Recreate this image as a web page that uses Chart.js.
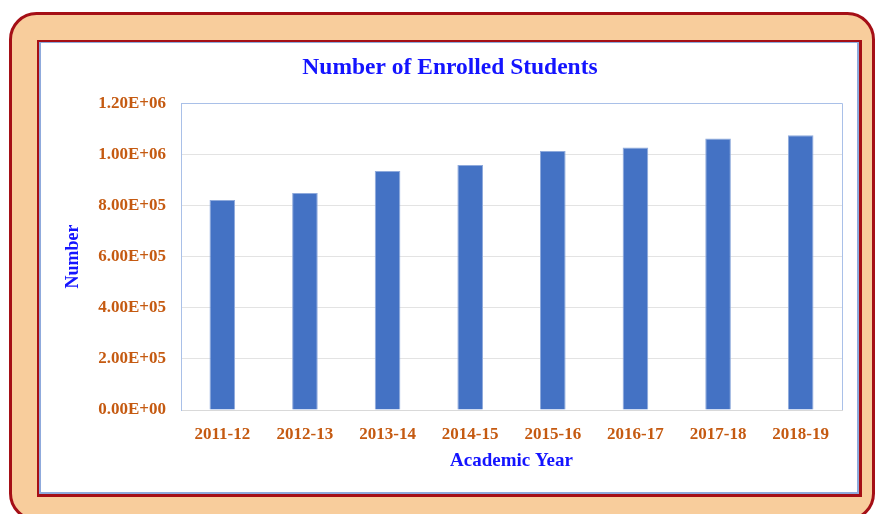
<!DOCTYPE html>
<html>
<head>
<meta charset="utf-8">
<script src="https://cdn.jsdelivr.net/npm/chart.js@4"></script>
<style>
  html, body { margin: 0; padding: 0; background: #fff; }
  #wrap { position: relative; width: 876px; height: 514px; }
</style>
</head>
<body>
<div id="wrap"><canvas id="enrolled"></canvas></div>
<script>
var years = ['2011-12', '2012-13', '2013-14', '2014-15', '2015-16', '2016-17', '2017-18', '2018-19'];
var students = [821000, 849000, 935000, 958000, 1013000, 1027000, 1062000, 1075000];
var yTicks = [0, 200000, 400000, 600000, 800000, 1000000, 1200000];

var serif = "'Liberation Serif', 'Times New Roman', serif";
var orange = '#C55A11';
var blue = '#1414FF';

// 1.20E+06 style labels
function sci(v) {
  var s = Number(v).toExponential(2).toUpperCase();
  return s.replace(/E([+-])(\d)$/, 'E$10$2');
}

// peach card with rounded corners plus the inner white panel
var framePlugin = {
  id: 'frame',
  beforeDraw: function (chart) {
    var c = chart.ctx;
    c.save();
    c.fillStyle = '#ffffff';
    c.fillRect(0, 0, chart.width, chart.height);

    c.beginPath();
    c.roundRect(10.5, 13.5, 863, 506, 26);
    c.fillStyle = '#F8CD9C';
    c.fill();
    c.lineWidth = 3;
    c.strokeStyle = '#A50F16';
    c.stroke();

    c.fillStyle = '#A50F16';
    c.fillRect(37, 40, 825, 457);
    c.fillStyle = '#8FAADC';
    c.fillRect(39, 42, 820, 452);
    c.fillStyle = '#ffffff';
    c.fillRect(41, 43, 816, 449);
    c.restore();
  },
  afterDatasetsDraw: function (chart) {
    var a = chart.chartArea;
    var c = chart.ctx;
    c.save();
    c.strokeStyle = '#A9C0E8';
    c.lineWidth = 1;
    c.beginPath();
    c.moveTo(Math.round(a.left) + 0.5, a.bottom);
    c.lineTo(Math.round(a.left) + 0.5, Math.round(a.top) + 0.5);
    c.lineTo(Math.round(a.right) + 0.5, Math.round(a.top) + 0.5);
    c.lineTo(Math.round(a.right) + 0.5, a.bottom);
    c.stroke();
    c.restore();
  }
};

new Chart(document.getElementById('enrolled'), {
  type: 'bar',
  data: {
    labels: years,
    datasets: [{
      label: 'Number',
      data: students,
      backgroundColor: '#4472C4',
      borderColor: '#8FAADC',
      borderWidth: 1,
      categoryPercentage: 1,
      barPercentage: 0.31
    }]
  },
  options: {
    responsive: true,
    maintainAspectRatio: false,
    animation: false,
    layout: { padding: { top: 40, left: 58, right: 34, bottom: 42 } },
    plugins: {
      legend: { display: false },
      tooltip: { enabled: false },
      title: {
        display: true,
        text: 'Number of Enrolled Students',
        color: blue,
        font: { family: serif, size: 23.5, weight: 'bold' },
        padding: { top: 14, bottom: 21 }
      }
    },
    scales: {
      x: {
        afterFit: function (scale) { scale.height = 62; },
        grid: { display: false, drawTicks: false },
        border: { color: '#D9D9D9' },
        ticks: {
          color: orange,
          padding: 14,
          maxRotation: 0,
          font: { family: serif, size: 17, weight: 'bold' }
        },
        title: {
          display: true,
          text: 'Academic Year',
          color: blue,
          font: { family: serif, size: 19, weight: 'bold' },
          padding: { top: 0, bottom: 0 }
        }
      },
      y: {
        min: 0,
        max: 1200000,
        afterBuildTicks: function (scale) {
          scale.ticks = yTicks.map(function (v) { return { value: v }; });
        },
        afterFit: function (scale) { scale.width = 123; },
        grid: { color: '#E3E3E3', drawTicks: false },
        border: { color: '#A9C0E8' },
        ticks: {
          color: orange,
          padding: 15,
          font: { family: serif, size: 17, weight: 'bold' },
          callback: function (v) { return sci(v); }
        },
        title: {
          display: true,
          text: 'Number',
          color: blue,
          font: { family: serif, size: 18, weight: 'bold' },
          padding: { top: 5, bottom: 0 }
        }
      }
    }
  },
  plugins: [framePlugin]
});
</script>
</body>
</html>
